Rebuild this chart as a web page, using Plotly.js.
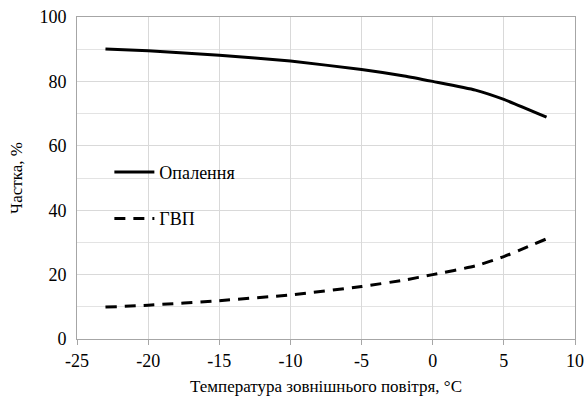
<!DOCTYPE html>
<html><head><meta charset="utf-8">
<script src="https://cdn.plot.ly/plotly-3.0.1.min.js"></script>
<style>body{margin:0;padding:0;background:#fff}#chart{width:588px;height:409px}</style>
</head><body><div id="chart"></div>
<script>
const temperature = [-23, -20, -15, -10, -5, -2, 0, 3, 5, 8];
const heating = [90.1, 89.5, 88.1, 86.3, 83.7, 81.7, 80.0, 77.3, 74.4, 68.9];
const hotWater = [9.9, 10.5, 11.9, 13.7, 16.3, 18.3, 20.0, 22.7, 25.6, 31.1];
const seriesNames = ['Опалення', 'ГВП'];
const xTickVals = [-25, -20, -15, -10, -5, 0, 5, 10];
const xTickText = ['-25', '-20', '-15', '-10', '-5', '0', '5', '10'];

const FAMILY = 'Liberation Serif, DejaVu Serif, serif';
const f = s => ({family: FAMILY, size: s, color: '#000'});
const traces = [
  {x: temperature, y: heating, name: seriesNames[0], legendgroup: 'a', mode: 'lines', type: 'scatter',
   line: {color: '#000', width: 3, shape: 'spline', smoothing: 0.5}},
  {x: temperature, y: hotWater, name: seriesNames[1], legendgroup: 'b', mode: 'lines', type: 'scatter',
   line: {color: '#000', width: 3, dash: '11px,8px', shape: 'spline', smoothing: 0.5}}
];
const layout = {
  width: 588, height: 409,
  margin: {l: 77, r: 13, t: 17, b: 70},
  paper_bgcolor: '#fff', plot_bgcolor: '#fff',
  font: f(17),
  showlegend: true,
  legend: {x: 0.065, y: 0.575, xanchor: 'left', yanchor: 'top', bgcolor: 'rgba(0,0,0,0)',
    font: f(18), itemwidth: 40, tracegroupgap: 20, traceorder: 'grouped'},
  xaxis: {range: [-25, 10], tickmode: 'array', tickvals: xTickVals, ticktext: xTickText,
    showgrid: true, gridcolor: '#d9d9d9', gridwidth: 1,
    zeroline: false, showline: true, linecolor: '#a6a6a6', linewidth: 1, mirror: true,
    ticks: 'outside', ticklen: 5, tickcolor: '#a6a6a6',
    tickfont: f(18),
    title: {text: 'Температура зовнішнього повітря, °C', font: f(17), standoff: 10}},
  yaxis: {range: [0, 100], dtick: 20, showgrid: true, gridcolor: '#d9d9d9', gridwidth: 1,
    minor: {dtick: 10, showgrid: true, gridcolor: '#e3e3e3', gridwidth: 1},
    zeroline: false, showline: true, linecolor: '#a6a6a6', linewidth: 1, mirror: true,
    ticks: '', ticklabelstandoff: 6,
    tickfont: f(18),
    title: {text: 'Частка, %', font: f(17), standoff: 12}}
};
Plotly.newPlot('chart', traces, layout, {staticPlot: true, displayModeBar: false});
</script></body></html>
